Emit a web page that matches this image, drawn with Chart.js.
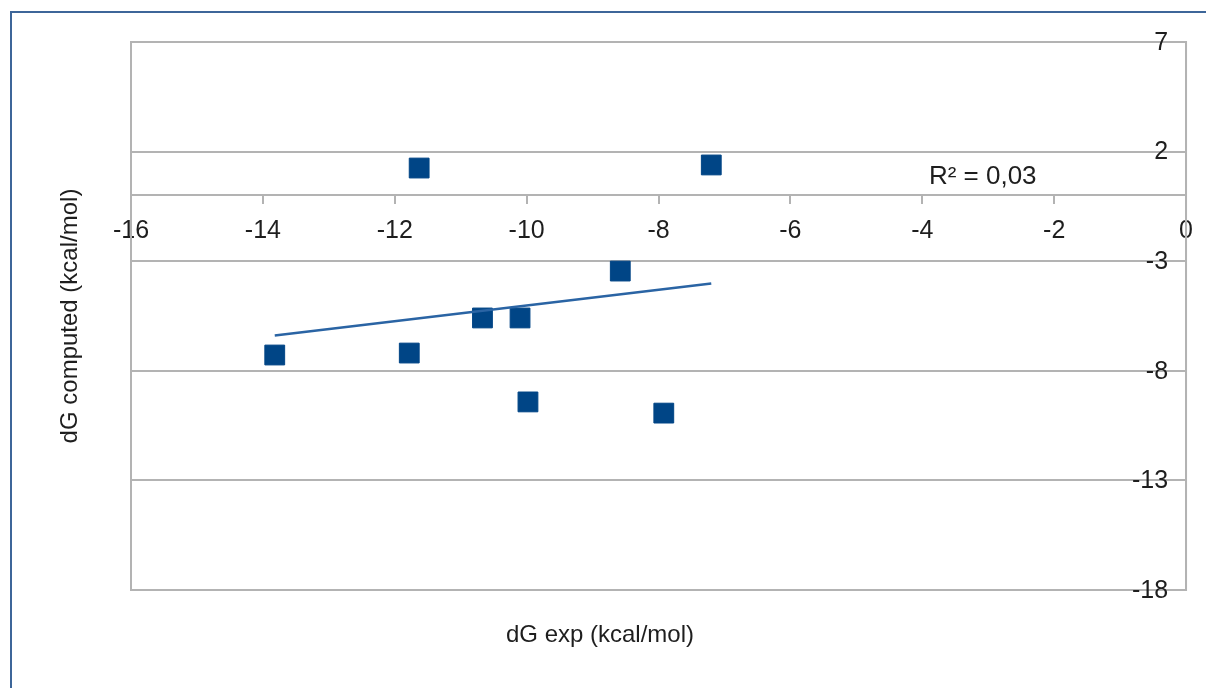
<!DOCTYPE html>
<html>
<head>
<meta charset="utf-8">
<script src="https://cdn.jsdelivr.net/npm/chart.js@4.4.1/dist/chart.umd.min.js"></script>
<style>
  html, body { margin: 0; padding: 0; background: #fff; }
  #frame {
    position: absolute; left: 10px; top: 11px; width: 1300px; height: 800px;
    border-left: 2px solid #3d6699; border-top: 2px solid #3d6699;
  }
  #wrap { position: absolute; left: 0; top: 0; width: 1206px; height: 688px; }
</style>
</head>
<body>
<div id="frame"></div>
<div id="wrap"><canvas id="chart" width="1206" height="688"></canvas></div>
<script>
"use strict";

// measured vs computed binding energies
const dgExp = [-11.63, -7.2, -8.58, -10.67, -10.1, -13.82, -11.78, -9.98, -7.92];
const dgComputed = [1.25, 1.39, -3.45, -5.59, -5.59, -7.28, -7.19, -9.42, -9.93];

const xTicks = [-16, -14, -12, -10, -8, -6, -4, -2, 0];
const yTicks = [-18, -13, -8, -3, 2, 7];
const rSquaredLabel = "R² = 0,03";

const FONT = "'Liberation Sans', Arial, sans-serif";
const textColor = "#1e1e1e";
const gridColor = "#b3b3b3";

// least squares line over the data range
const fitLine = () => {
  const n = dgExp.length;
  const mx = dgExp.reduce((a, b) => a + b, 0) / n;
  const my = dgComputed.reduce((a, b) => a + b, 0) / n;
  let sxy = 0;
  let sxx = 0;
  for (let i = 0; i < n; i++) {
    sxy += (dgExp[i] - mx) * (dgComputed[i] - my);
    sxx += (dgExp[i] - mx) ** 2;
  }
  const slope = sxy / sxx;
  const x0 = Math.min(...dgExp);
  const x1 = Math.max(...dgExp);
  return [
    { x: x0, y: my + slope * (x0 - mx) },
    { x: x1, y: my + slope * (x1 - mx) },
  ];
};

const points = dgExp.map((x, i) => ({ x: x, y: dgComputed[i] }));

// plot frame, y labels left of the axis, axis titles and the R² note
const decorations = {
  id: "decorations",
  beforeDatasetsDraw(chart) {
    const { ctx, chartArea } = chart;
    ctx.save();
    ctx.strokeStyle = gridColor;
    ctx.lineWidth = 2;
    ctx.strokeRect(chartArea.left, chartArea.top,
      chartArea.right - chartArea.left, chartArea.bottom - chartArea.top);
    ctx.restore();
  },
  afterDraw(chart) {
    const { ctx } = chart;
    const xs = chart.scales.x;
    const ys = chart.scales.y;
    const axisX = xs.getPixelForValue(0);

    ctx.save();
    ctx.fillStyle = textColor;
    ctx.font = "25px " + FONT;
    ctx.textAlign = "right";
    ctx.textBaseline = "middle";
    yTicks.forEach((v) => {
      ctx.fillText(String(v), axisX - 18, ys.getPixelForValue(v) + 1);
    });
    ctx.restore();

    ctx.save();
    ctx.fillStyle = textColor;
    ctx.font = "24px " + FONT;
    ctx.textAlign = "center";
    ctx.textBaseline = "middle";
    ctx.fillText("dG exp (kcal/mol)", 600, 635);
    ctx.translate(70, 316);
    ctx.rotate(-Math.PI / 2);
    ctx.fillText("dG computed (kcal/mol)", 0, 0);
    ctx.restore();

    ctx.save();
    ctx.fillStyle = textColor;
    ctx.font = "26px " + FONT;
    ctx.textAlign = "left";
    ctx.textBaseline = "middle";
    ctx.fillText(rSquaredLabel, xs.getPixelForValue(-3.9), ys.getPixelForValue(0.85));
    ctx.restore();
  },
};

const ctx = document.getElementById("chart").getContext("2d");
const chart = new Chart(ctx, {
  type: "scatter",
  data: {
    datasets: [
      {
        label: "dG",
        data: points,
        backgroundColor: "#004586",
        borderColor: "#004586",
        borderWidth: 1,
        pointStyle: "rect",
        pointRadius: 14,
        pointHoverRadius: 14,
        order: 1,
      },
      {
        type: "line",
        label: "trend",
        data: fitLine(),
        borderColor: "#2a64a4",
        borderWidth: 2.5,
        pointRadius: 0,
        fill: false,
        order: 0,
      },
    ],
  },
  options: {
    responsive: false,
    animation: false,
    events: [],
    layout: { padding: { left: 131, top: 42, right: 18, bottom: 98 } },
    plugins: { legend: { display: false }, tooltip: { enabled: false } },
    scales: {
      x: {
        type: "linear",
        min: -16,
        max: 0,
        position: { y: 0 },
        afterBuildTicks: (scale) => { scale.ticks = xTicks.map((v) => ({ value: v })); },
        grid: { drawOnChartArea: false, color: gridColor, tickLength: 8, lineWidth: 2 },
        border: { color: gridColor, width: 2 },
        ticks: { color: textColor, font: { family: FONT, size: 25 }, padding: 13, maxRotation: 0, autoSkip: false },
      },
      y: {
        type: "linear",
        min: -18,
        max: 7,
        position: { x: 0 },
        afterBuildTicks: (scale) => { scale.ticks = yTicks.map((v) => ({ value: v })); },
        grid: { color: gridColor, lineWidth: 2, drawTicks: false },
        border: { color: gridColor, width: 2 },
        ticks: { display: false },
      },
    },
  },
  plugins: [decorations],
});
</script>
</body>
</html>
